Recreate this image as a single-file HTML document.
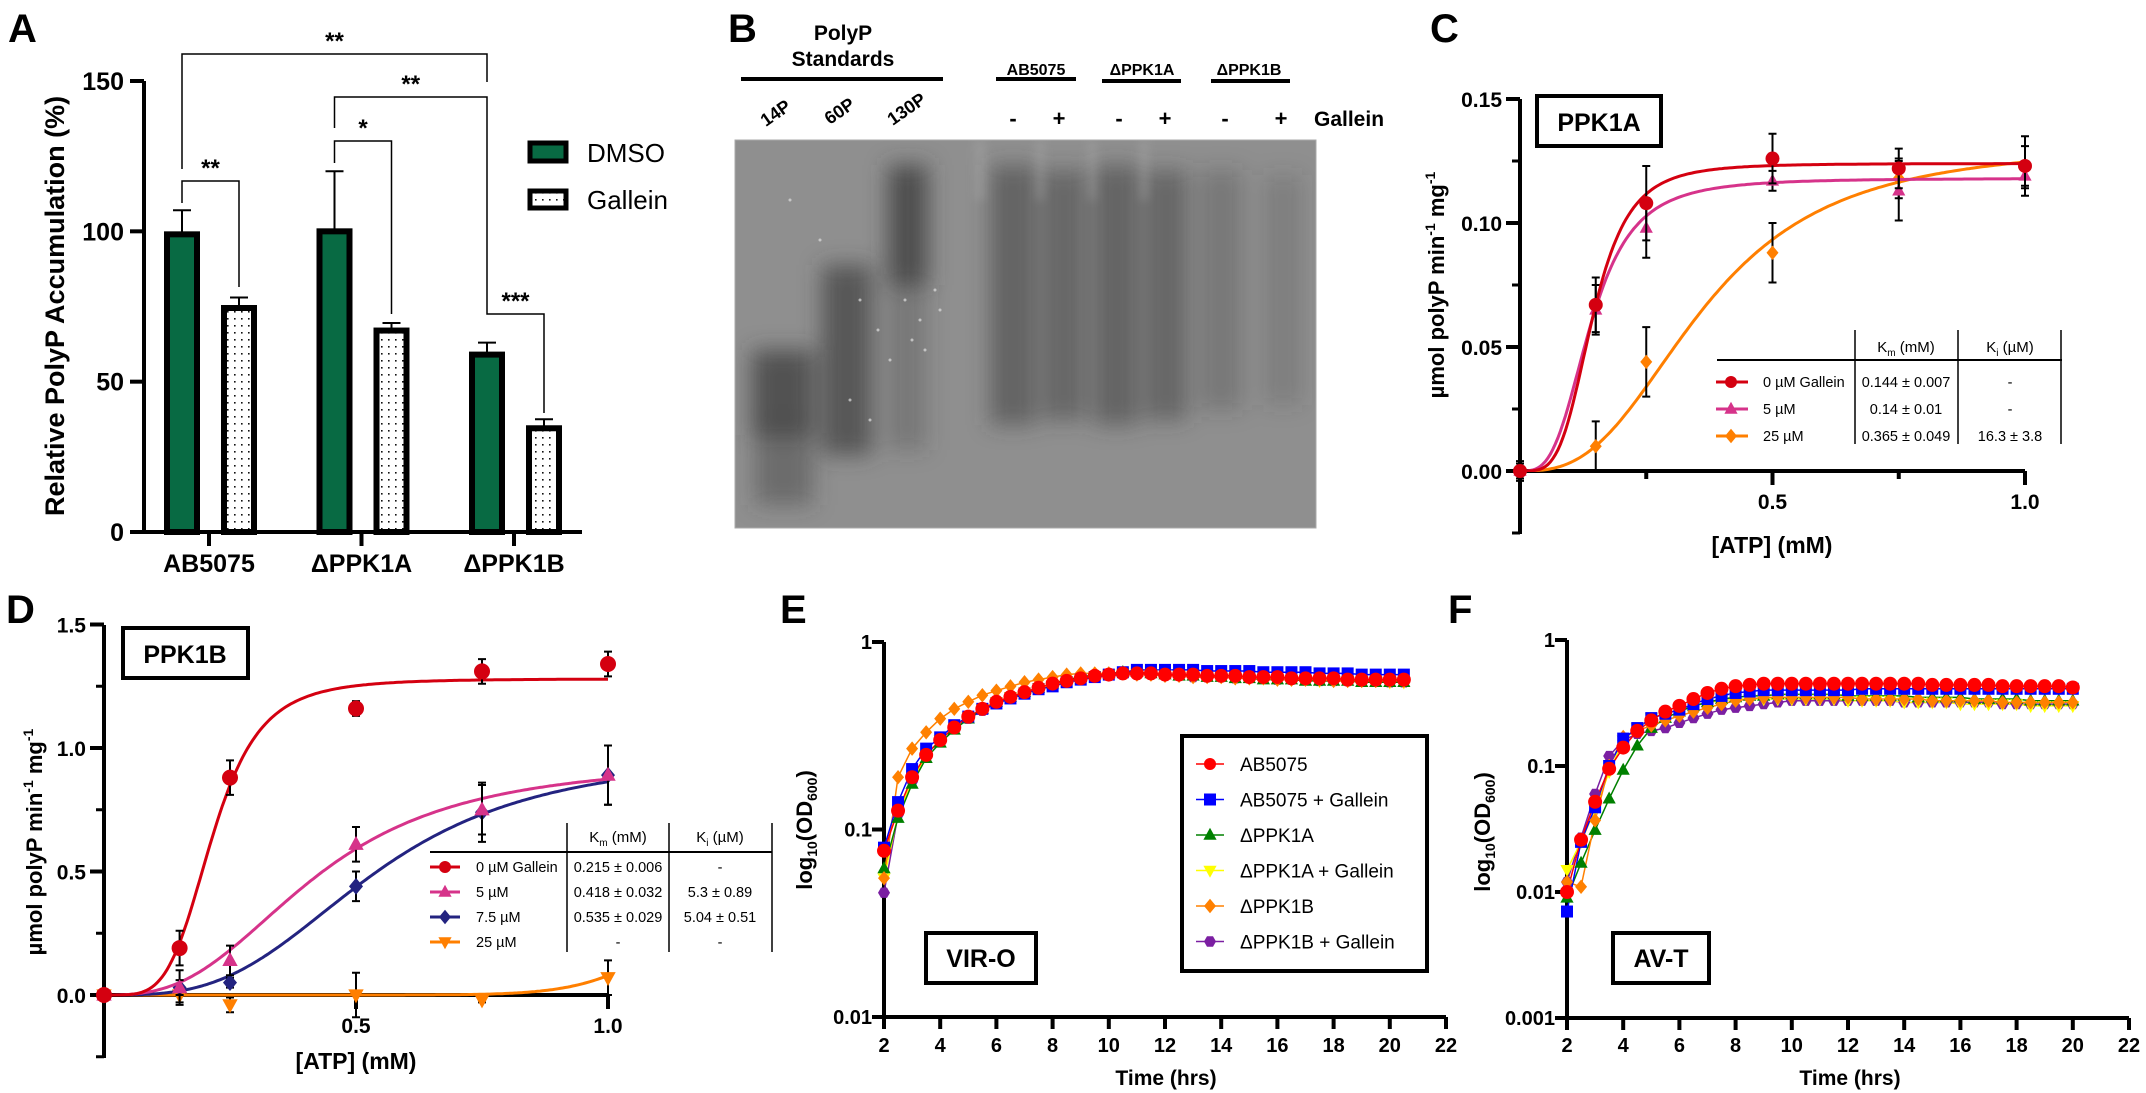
<!DOCTYPE html>
<html><head><meta charset="utf-8">
<style>
html,body{margin:0;padding:0;background:#fff;}
svg{display:block;font-family:"Liberation Sans",Arial,sans-serif;}
.b{font-weight:bold;}
</style></head>
<body>
<svg id="fig" width="2146" height="1093" viewBox="0 0 2146 1093" xmlns="http://www.w3.org/2000/svg">
<defs>
<pattern id="dots" width="7" height="7" patternUnits="userSpaceOnUse"><rect width="7" height="7" fill="#fff"/><rect x="3" y="3" width="1.6" height="1.6" fill="#111"/></pattern>
<filter id="blur8" x="-50%" y="-50%" width="200%" height="200%"><feGaussianBlur stdDeviation="11"/></filter>
<filter id="blur4" x="-50%" y="-50%" width="200%" height="200%"><feGaussianBlur stdDeviation="5"/></filter>
<clipPath id="gelclip"><rect x="735" y="140" width="581" height="388"/></clipPath>
<clipPath id="cclip"><rect x="1520" y="60" width="520" height="412"/></clipPath>
</defs>

<text x="8" y="42" class="b" font-size="40">A</text>
<text x="728" y="42" class="b" font-size="40">B</text>
<text x="1430" y="42" class="b" font-size="40">C</text>
<text x="6" y="623" class="b" font-size="40">D</text>
<text x="780" y="623" class="b" font-size="40">E</text>
<text x="1448" y="623" class="b" font-size="40">F</text>

<g id="panelA">
<text transform="translate(64,306) rotate(-90)" text-anchor="middle" class="b" font-size="27">Relative PolyP Accumulation (%)</text>
<rect x="530" y="143" width="36" height="18" fill="#086a43" stroke="#000" stroke-width="5"/>
<text x="587" y="162" font-size="26">DMSO</text>
<rect x="530" y="191" width="36" height="17" fill="url(#dots)" stroke="#000" stroke-width="5"/>
<text x="587" y="209" font-size="26">Gallein</text>
</g>

<g id="panelB">
<text x="843" y="40" text-anchor="middle" class="b" font-size="21">PolyP</text>
<text x="843" y="66" text-anchor="middle" class="b" font-size="21">Standards</text>
<rect x="741" y="77" width="202" height="4" fill="#000"/>
<text transform="translate(779,118) rotate(-35)" text-anchor="middle" class="b" font-size="18">14P</text>
<text transform="translate(843,116) rotate(-35)" text-anchor="middle" class="b" font-size="18">60P</text>
<text transform="translate(910,114) rotate(-35)" text-anchor="middle" class="b" font-size="18">130P</text>
<text x="1036" y="75" text-anchor="middle" class="b" font-size="16">AB5075</text>
<rect x="996" y="77" width="80" height="4" fill="#000"/>
<text x="1142" y="75" text-anchor="middle" class="b" font-size="16">ΔPPK1A</text>
<rect x="1102" y="79" width="79" height="4" fill="#000"/>
<text x="1249" y="75" text-anchor="middle" class="b" font-size="16">ΔPPK1B</text>
<rect x="1211" y="79" width="79" height="4" fill="#000"/>
<g class="b" font-size="22" text-anchor="middle">
<text x="1013" y="126">-</text>
<text x="1059" y="126">+</text>
<text x="1119" y="126">-</text>
<text x="1165" y="126">+</text>
<text x="1225" y="126">-</text>
<text x="1281" y="126">+</text>
</g>
<text x="1314" y="126" class="b" font-size="21">Gallein</text>
<g clip-path="url(#gelclip)">
<rect x="735" y="140" width="581" height="388" fill="#8f8f8f"/>
<g filter="url(#blur8)" fill="#3e3e3e">
<rect x="752" y="350" width="62" height="85" opacity="0.75"/>
<rect x="755" y="425" width="58" height="80" opacity="0.45"/>
<rect x="822" y="265" width="50" height="190" opacity="0.7"/>
<rect x="888" y="165" width="40" height="120" opacity="0.8"/>
<rect x="888" y="280" width="38" height="170" opacity="0.3"/>
<rect x="990" y="165" width="46" height="260" opacity="0.55"/>
<rect x="1043" y="170" width="42" height="250" opacity="0.5"/>
<rect x="1094" y="165" width="44" height="260" opacity="0.55"/>
<rect x="1145" y="170" width="42" height="250" opacity="0.5"/>
<rect x="1200" y="170" width="42" height="240" opacity="0.28"/>
<rect x="1264" y="175" width="38" height="230" opacity="0.22"/>
</g>
<g filter="url(#blur4)" fill="#b0b0b0" opacity="0.35">
<rect x="975" y="140" width="10" height="60"/>
<rect x="1036" y="140" width="8" height="60"/>
<rect x="1088" y="140" width="8" height="60"/>
<rect x="1140" y="140" width="8" height="60"/>
</g>
<g fill="#e0e0e0" opacity="0.7">
<circle cx="905" cy="300" r="1.5"/><circle cx="920" cy="320" r="1.5"/><circle cx="935" cy="290" r="1.5"/><circle cx="912" cy="340" r="1.5"/><circle cx="940" cy="310" r="1.5"/><circle cx="878" cy="330" r="1.5"/><circle cx="860" cy="300" r="1.5"/><circle cx="890" cy="360" r="1.5"/><circle cx="925" cy="350" r="1.5"/><circle cx="850" cy="400" r="1.5"/><circle cx="870" cy="420" r="1.5"/><circle cx="790" cy="200" r="1.5"/><circle cx="820" cy="240" r="1.5"/>
</g>
</g>
<rect x="735" y="140" width="581" height="388" fill="none" stroke="#aaa" stroke-width="1"/>
</g>

<g id="panelC">
<text transform="translate(1444,285) rotate(-90)" text-anchor="middle" class="b" font-size="22">µmol polyP min<tspan font-size="14" dy="-9">-1</tspan><tspan dy="9"> mg</tspan><tspan font-size="14" dy="-9">-1</tspan></text>
<text x="1772" y="553" text-anchor="middle" class="b" font-size="23">[ATP] (mM)</text>
<rect x="1537" y="96" width="124" height="50" fill="#fff" stroke="#000" stroke-width="4"/>
<text x="1599" y="131" text-anchor="middle" class="b" font-size="25">PPK1A</text>
</g>

<g id="panelD">
<text transform="translate(42,842) rotate(-90)" text-anchor="middle" class="b" font-size="22">µmol polyP min<tspan font-size="14" dy="-9">-1</tspan><tspan dy="9"> mg</tspan><tspan font-size="14" dy="-9">-1</tspan></text>
<text x="356" y="1069" text-anchor="middle" class="b" font-size="23">[ATP] (mM)</text>
<rect x="123" y="628" width="125" height="50" fill="#fff" stroke="#000" stroke-width="4"/>
<text x="185" y="663" text-anchor="middle" class="b" font-size="25">PPK1B</text>
</g>

<g id="panelE">
<text transform="translate(812,830) rotate(-90)" text-anchor="middle" class="b" font-size="22">log<tspan font-size="14" dy="5">10</tspan><tspan dy="-5">(OD</tspan><tspan font-size="14" dy="5">600</tspan><tspan dy="-5">)</tspan></text>
<text x="1166" y="1085" text-anchor="middle" class="b" font-size="21">Time (hrs)</text>
<rect x="926" y="933" width="110" height="50" fill="#fff" stroke="#000" stroke-width="4"/>
<text x="981" y="967" text-anchor="middle" class="b" font-size="25">VIR-O</text>
</g>
<g id="panelF">
<text transform="translate(1490,832) rotate(-90)" text-anchor="middle" class="b" font-size="22">log<tspan font-size="14" dy="5">10</tspan><tspan dy="-5">(OD</tspan><tspan font-size="14" dy="5">600</tspan><tspan dy="-5">)</tspan></text>
<text x="1850" y="1085" text-anchor="middle" class="b" font-size="21">Time (hrs)</text>
<rect x="1613" y="933" width="96" height="50" fill="#fff" stroke="#000" stroke-width="4"/>
<text x="1661" y="967" text-anchor="middle" class="b" font-size="25">AV-T</text>
</g>
</svg>

<script>
// ---------- Panel A data ----------
const A_cats = ['AB5075', 'ΔPPK1A', 'ΔPPK1B'];
const A_dmso = [99, 100, 59];
const A_dmsoErr = [8, 20, 4];
const A_gal = [74.5, 67, 34.5];
const A_galErr = [3.5, 2.5, 3];
const A_ticks = [0, 50, 100, 150];

// ---------- Panel C data ----------
const C_atp = [0, 0.15, 0.25, 0.5, 0.75, 1.0];
const C_red = [0, 0.067, 0.108, 0.126, 0.122, 0.123];
const C_redErr = [0.004, 0.011, 0.015, 0.010, 0.008, 0.012];
const C_pink = [0, 0.065, 0.098, 0.117, 0.113, 0.119];
const C_pinkErr = [0.003, 0.010, 0.012, 0.004, 0.012, 0.005];
const C_orange = [0, 0.010, 0.044, 0.088, 0.118, 0.123];
const C_orangeErr = [0.003, 0.010, 0.014, 0.012, 0.008, 0.008];
const C_vmax = [0.124, 0.118, 0.132];
const C_km = [0.144, 0.14, 0.365];
const C_hill = [4, 3.3, 2.8];
const C_yticks = [0, 0.05, 0.10, 0.15];
const C_ylabels = ['0.00', '0.05', '0.10', '0.15'];
const C_legend = ['0 µM Gallein', '5 µM', '25 µM'];
const C_kmText = ['0.144 ± 0.007', '0.14 ± 0.01', '0.365 ± 0.049'];
const C_kiText = ['-', '-', '16.3 ± 3.8'];

// ---------- Panel D data ----------
const D_atp = [0, 0.15, 0.25, 0.5, 0.75, 1.0];
const D_red = [0, 0.19, 0.88, 1.16, 1.31, 1.34];
const D_redErr = [0.02, 0.07, 0.07, 0.03, 0.05, 0.05];
const D_pink = [0, 0.03, 0.14, 0.61, 0.75, 0.89];
const D_pinkErr = [0.01, 0.03, 0.06, 0.07, 0.10, 0.12];
const D_navy = [0, 0.03, 0.05, 0.44, 0.74, 0.89];
const D_navyErr = [0.01, 0.07, 0.02, 0.06, 0.12, 0.12];
const D_orange = [0, 0.0, -0.04, 0.0, -0.02, 0.07];
const D_orangeErr = [0.01, 0.03, 0.03, 0.09, 0.01, 0.07];
const D_vmax = [1.28, 0.95, 0.98, 0.5];
const D_km = [0.215, 0.418, 0.535, 1.15];
const D_hill = [4.5, 2.8, 3.2, 12];
const D_yticks = [0, 0.5, 1.0, 1.5];
const D_ylabels = ['0.0', '0.5', '1.0', '1.5'];
const D_legend = ['0 µM Gallein', '5 µM', '7.5 µM', '25 µM'];
const D_kmText = ['0.215 ± 0.006', '0.418 ± 0.032', '0.535 ± 0.029', '-'];
const D_kiText = ['-', '5.3 ± 0.89', '5.04 ± 0.51', '-'];

// ---------- Panel E data ----------
const E_time = [2,2.5,3,3.5,4,4.5,5,5.5,6,6.5,7,7.5,8,8.5,9,9.5,10,10.5,11,11.5,12,12.5,13,13.5,14,14.5,15,15.5,16,16.5,17,17.5,18,18.5,19,19.5,20,20.5];
const E_ab = [0.077,0.126,0.19,0.25,0.30,0.35,0.40,0.44,0.48,0.51,0.54,0.57,0.60,0.62,0.64,0.66,0.67,0.68,0.68,0.68,0.67,0.67,0.67,0.66,0.66,0.66,0.65,0.65,0.65,0.64,0.64,0.64,0.64,0.63,0.63,0.63,0.63,0.63];
const E_abGal = [0.08,0.14,0.21,0.27,0.31,0.36,0.40,0.44,0.47,0.50,0.53,0.56,0.58,0.61,0.63,0.65,0.67,0.69,0.71,0.71,0.71,0.71,0.71,0.70,0.70,0.70,0.70,0.69,0.69,0.69,0.69,0.68,0.68,0.68,0.67,0.67,0.67,0.67];
const E_p1a = [0.062,0.115,0.175,0.24,0.29,0.34,0.39,0.44,0.48,0.51,0.54,0.57,0.60,0.63,0.65,0.67,0.68,0.69,0.69,0.68,0.67,0.66,0.66,0.65,0.65,0.64,0.64,0.63,0.63,0.63,0.62,0.62,0.62,0.62,0.61,0.61,0.61,0.61];
const E_p1aGal = [0.055,0.12,0.18,0.25,0.30,0.35,0.40,0.44,0.48,0.51,0.54,0.57,0.59,0.62,0.64,0.66,0.67,0.68,0.68,0.67,0.67,0.66,0.66,0.65,0.65,0.64,0.64,0.64,0.63,0.63,0.63,0.62,0.62,0.62,0.62,0.62,0.61,0.61];
const E_p1b = [0.055,0.19,0.27,0.33,0.39,0.44,0.48,0.52,0.55,0.58,0.61,0.63,0.65,0.67,0.68,0.68,0.68,0.68,0.67,0.67,0.66,0.66,0.65,0.65,0.65,0.64,0.64,0.64,0.63,0.63,0.63,0.63,0.62,0.62,0.62,0.62,0.62,0.62];
const E_p1bGal = [0.046,0.12,0.18,0.25,0.30,0.35,0.39,0.43,0.47,0.50,0.53,0.56,0.59,0.61,0.63,0.65,0.66,0.67,0.67,0.67,0.66,0.66,0.65,0.65,0.65,0.64,0.64,0.64,0.63,0.63,0.63,0.62,0.62,0.62,0.62,0.62,0.61,0.61];

// ---------- Panel F data ----------
const F_time = [2,2.5,3,3.5,4,4.5,5,5.5,6,6.5,7,7.5,8,8.5,9,9.5,10,10.5,11,11.5,12,12.5,13,13.5,14,14.5,15,15.5,16,16.5,17,17.5,18,18.5,19,19.5,20];
const F_ab = [0.010,0.026,0.052,0.095,0.14,0.19,0.23,0.27,0.30,0.34,0.38,0.41,0.43,0.44,0.45,0.45,0.45,0.45,0.45,0.45,0.45,0.45,0.45,0.45,0.45,0.45,0.44,0.44,0.44,0.44,0.44,0.43,0.43,0.43,0.43,0.43,0.42];
const F_abGal = [0.007,0.025,0.047,0.10,0.165,0.20,0.24,0.26,0.28,0.31,0.34,0.36,0.38,0.39,0.40,0.40,0.40,0.40,0.40,0.40,0.40,0.41,0.41,0.41,0.41,0.41,0.41,0.41,0.41,0.41,0.41,0.41,0.41,0.41,0.41,0.41,0.41];
const F_p1a = [0.009,0.017,0.031,0.055,0.093,0.145,0.20,0.24,0.27,0.30,0.32,0.34,0.35,0.36,0.36,0.37,0.37,0.37,0.37,0.37,0.36,0.36,0.36,0.36,0.36,0.35,0.35,0.35,0.35,0.34,0.34,0.34,0.34,0.33,0.33,0.33,0.33];
const F_p1aGal = [0.015,0.025,0.045,0.09,0.16,0.20,0.24,0.26,0.28,0.30,0.32,0.33,0.34,0.34,0.34,0.34,0.34,0.34,0.34,0.34,0.33,0.33,0.33,0.33,0.32,0.32,0.32,0.32,0.31,0.31,0.31,0.31,0.31,0.30,0.30,0.30,0.30];
const F_p1b = [0.012,0.011,0.037,0.10,0.17,0.19,0.21,0.23,0.25,0.27,0.29,0.31,0.33,0.34,0.35,0.35,0.35,0.35,0.35,0.35,0.35,0.34,0.34,0.34,0.34,0.34,0.33,0.33,0.33,0.33,0.33,0.32,0.32,0.32,0.32,0.32,0.32];
const F_p1bGal = [0.012,0.027,0.06,0.12,0.16,0.18,0.19,0.20,0.22,0.24,0.26,0.28,0.29,0.30,0.31,0.32,0.33,0.33,0.33,0.33,0.33,0.33,0.33,0.33,0.32,0.32,0.32,0.32,0.32,0.32,0.32,0.31,0.31,0.31,0.31,0.31,0.31];
const EF_legend = ['AB5075', 'AB5075 + Gallein', 'ΔPPK1A', 'ΔPPK1A + Gallein', 'ΔPPK1B', 'ΔPPK1B + Gallein'];
const EF_xticks = [2,4,6,8,10,12,14,16,18,20,22];

const NS = 'http://www.w3.org/2000/svg';
const svg = document.getElementById('fig');
function mk(tag, attrs, parent) {
  const el = document.createElementNS(NS, tag);
  for (const k in attrs) el.setAttribute(k, attrs[k]);
  (parent || svg).appendChild(el);
  return el;
}
function line(x1, y1, x2, y2, w, c, name) {
  const el = mk('line', {x1: x1, y1: y1, x2: x2, y2: y2, stroke: c || '#000', 'stroke-width': w});
  
  
  return el;
}
function txt(x, y, s, size, anchor, bold, name) {
  const el = mk('text', {x: x, y: y, 'font-size': size, 'text-anchor': anchor || 'start'});
  if (bold) el.setAttribute('font-weight', 'bold');
  el.textContent = s;
  
  
  return el;
}
function marker(shape, x, y, r, color, name, parent) {
  let el;
  if (shape === 'circle') el = mk('circle', {cx: x, cy: y, r: r, fill: color}, parent);
  else if (shape === 'square') el = mk('rect', {x: x - r, y: y - r, width: 2 * r, height: 2 * r, fill: color}, parent);
  else if (shape === 'tri') el = mk('polygon', {points: (x) + ',' + (y - r * 1.2) + ' ' + (x - r * 1.1) + ',' + (y + r * 0.8) + ' ' + (x + r * 1.1) + ',' + (y + r * 0.8), fill: color}, parent);
  else if (shape === 'tridown') el = mk('polygon', {points: (x) + ',' + (y + r * 1.2) + ' ' + (x - r * 1.1) + ',' + (y - r * 0.8) + ' ' + (x + r * 1.1) + ',' + (y - r * 0.8), fill: color}, parent);
  else if (shape === 'diamond') el = mk('polygon', {points: x + ',' + (y - r * 1.2) + ' ' + (x + r) + ',' + y + ' ' + x + ',' + (y + r * 1.2) + ' ' + (x - r) + ',' + y, fill: color}, parent);
  else {
    let p = [];
    for (let i = 0; i < 6; i++) { const a = Math.PI / 3 * i; p.push((x + r * Math.cos(a)) + ',' + (y + r * Math.sin(a))); }
    el = mk('polygon', {points: p.join(' '), fill: color}, parent);
  }
  
  
  return el;
}
function errbar(x, y1, y2, cap, name) {
  const g = mk('path', {d: 'M' + x + ',' + y1 + 'V' + y2 + 'M' + (x - cap) + ',' + y1 + 'H' + (x + cap) + 'M' + (x - cap) + ',' + y2 + 'H' + (x + cap), stroke: '#000', 'stroke-width': 2, fill: 'none'});
  
  
  return g;
}

// ================= Panel A =================
const aY = v => 532 - v * (451 / 150);
const aX = i => 209 + i * 152.5;
line(144, aY(150), 144, 534, 4, '#000', 'a-y-axis');
line(131, 532, 582, 532, 4, '#000', 'a-x-axis');
A_ticks.forEach(t => {
  line(130, aY(t), 144, aY(t), 4, '#000', 'a-y-tick');
  txt(124, aY(t) + 9, String(t), 25, 'end', true, 'a-y-tick-label');
});
A_cats.forEach((c, i) => {
  line(aX(i), 532, aX(i), 546, 4, '#000', 'a-x-tick');
  txt(aX(i), 572, c, 25, 'middle', true, 'a-x-tick-label');
  const xd = aX(i) - 27, xg = aX(i) + 30;
  line(xd, aY(A_dmso[i]), xd, aY(A_dmso[i] + A_dmsoErr[i]), 2, '#000', 'a-dmso-error');
  line(xd - 9, aY(A_dmso[i] + A_dmsoErr[i]), xd + 9, aY(A_dmso[i] + A_dmsoErr[i]), 2, '#000', 'a-dmso-error-cap');
  line(xg, aY(A_gal[i]), xg, aY(A_gal[i] + A_galErr[i]), 2, '#000', 'a-gallein-error');
  line(xg - 9, aY(A_gal[i] + A_galErr[i]), xg + 9, aY(A_gal[i] + A_galErr[i]), 2, '#000', 'a-gallein-error-cap');
  const b1 = mk('rect', {x: xd - 15, y: aY(A_dmso[i]), width: 30, height: 532 - aY(A_dmso[i]), fill: '#086a43', stroke: '#000', 'stroke-width': 6});
  
  
  const b2 = mk('rect', {x: xg - 15, y: aY(A_gal[i]), width: 30, height: 532 - aY(A_gal[i]), fill: 'url(#dots)', stroke: '#000', 'stroke-width': 6});
  
  
});
function bracket(x1, x2, yt, yl, yr, label, name) {
  const p = mk('path', {d: 'M' + x1 + ',' + yl + 'V' + yt + 'H' + x2 + 'V' + yr, stroke: '#000', 'stroke-width': 1.5, fill: 'none'});
  
  
  txt((x1 + x2) / 2, yt - 5, label, 24, 'middle', true, name + '-label');
}
const xD0 = aX(0) - 27, xG0 = aX(0) + 30, xD1 = aX(1) - 27, xG1 = aX(1) + 30, xD2 = aX(2) - 27, xG2 = aX(2) + 30;
bracket(xD0, xD2, 54, 169, 82, '**', 'sig-bracket-ab-vs-ppk1b');
bracket(xD1, xD2, 97, 128, 297, '**', 'sig-bracket-ppk1a-vs-ppk1b');
bracket(xD1, xG1, 141, 163, 314, '*', 'sig-bracket-ppk1a');
bracket(xD0, xG0, 181, 203, 287, '**', 'sig-bracket-ab5075');
bracket(xD2, xG2, 314, 297, 413, '***', 'sig-bracket-ppk1b');

// ================= Panel C =================
const cX = v => 1520 + v * 505;
const cY = v => 471 - v * 2480;
line(1520, 99, 1520, 534, 4, '#000', 'c-y-axis');
line(1518, 471, 2025, 471, 4, '#000', 'c-x-axis');
C_yticks.forEach((t, i) => {
  line(1506, cY(t), 1520, cY(t), 4, '#000', 'c-y-tick');
  txt(1502, cY(t) + 8, C_ylabels[i], 21, 'end', true, 'c-y-tick-label');
});
[0.025, 0.075, 0.125, -0.025].forEach(t => line(1512, cY(t), 1520, cY(t), 3, '#000', 'c-y-minor-tick'));
[0.25, 0.5, 0.75, 1.0].forEach(t => line(cX(t), 471, cX(t), t === 0.25 || t === 0.75 ? 479 : 485, 4, '#000', 'c-x-tick'));
txt(cX(0.5), 509, '0.5', 21, 'middle', true, 'c-x-tick-label');
txt(cX(1.0), 509, '1.0', 21, 'middle', true, 'c-x-tick-label');
const hill = (x, vm, k, n) => vm * Math.pow(x, n) / (Math.pow(k, n) + Math.pow(x, n));
const C_colors = ['#d40010', '#d6338a', '#ff7f00'];
const C_shapes = ['circle', 'tri', 'diamond'];
const C_series = [C_red, C_pink, C_orange];
const C_errs = [C_redErr, C_pinkErr, C_orangeErr];
[2, 1, 0].forEach(s => {
  let d = '';
  for (let k = 0; k <= 200; k++) { const x = k / 200; d += (k ? 'L' : 'M') + cX(x).toFixed(1) + ',' + cY(hill(x, C_vmax[s], C_km[s], C_hill[s])).toFixed(1); }
  const p = mk('path', {d: d, stroke: C_colors[s], 'stroke-width': 3, fill: 'none', 'clip-path': 'url(#cclip)'});
  
  
  C_series[s].forEach((v, i) => {
    errbar(cX(C_atp[i]), cY(v + C_errs[s][i]), cY(v - C_errs[s][i]), 4, 'c-error-bar');
    marker(C_shapes[s], cX(C_atp[i]), cY(v), s === 0 ? 7 : 6, C_colors[s], 'c-point-' + s);
  });
});
line(1717, 360, 2062, 360, 2, '#000', 'c-table-rule');
[1855, 1958, 2061].forEach(x => line(x, 330, x, 444, 1.5, '#000', 'c-table-divider'));
const ch1 = txt(1906, 352, 'K', 15, 'middle', false, 'c-table-header-km');
ch1.innerHTML = 'K<tspan font-size="10" dy="4">m</tspan><tspan dy="-4"> (mM)</tspan>';
const ch2 = txt(2010, 352, 'K', 15, 'middle', false, 'c-table-header-ki');
ch2.innerHTML = 'K<tspan font-size="10" dy="4">i</tspan><tspan dy="-4"> (µM)</tspan>';
C_legend.forEach((l, i) => {
  const y = 382 + i * 27;
  line(1716, y, 1748, y, 3, C_colors[i], 'c-legend-line');
  marker(C_shapes[i], 1731, y, 6, C_colors[i], 'c-legend-marker');
  txt(1763, y + 5, l, 14.5, 'start', false, 'c-legend-label');
  txt(1906, y + 5, C_kmText[i], 14.5, 'middle', false, 'c-table-km');
  txt(2010, y + 5, C_kiText[i], 14.5, 'middle', false, 'c-table-ki');
});

// ================= Panel D =================
const dX = v => 104 + v * 504;
const dY = v => 995 - v * 247;
line(104, 625, 104, 1058, 4, '#000', 'd-y-axis');
line(102, 995, 608, 995, 4, '#000', 'd-x-axis');
D_yticks.forEach((t, i) => {
  line(90, dY(t), 104, dY(t), 4, '#000', 'd-y-tick');
  txt(86, dY(t) + 8, D_ylabels[i], 21, 'end', true, 'd-y-tick-label');
});
[0.25, 0.75, 1.25, -0.25].forEach(t => line(96, dY(t), 104, dY(t), 3, '#000', 'd-y-minor-tick'));
[0.5, 1.0].forEach(t => line(dX(t), 995, dX(t), 1009, 4, '#000', 'd-x-tick'));
txt(dX(0.5), 1033, '0.5', 21, 'middle', true, 'd-x-tick-label');
txt(dX(1.0), 1033, '1.0', 21, 'middle', true, 'd-x-tick-label');
const D_colors = ['#d40010', '#d6338a', '#232380', '#ff7f00'];
const D_shapes = ['circle', 'tri', 'diamond', 'tridown'];
const D_series = [D_red, D_pink, D_navy, D_orange];
const D_errs = [D_redErr, D_pinkErr, D_navyErr, D_orangeErr];
[3, 2, 1, 0].forEach(s => {
  let d = '';
  for (let k = 0; k <= 200; k++) { const x = k / 200; d += (k ? 'L' : 'M') + dX(x).toFixed(1) + ',' + dY(hill(x, D_vmax[s], D_km[s], D_hill[s])).toFixed(1); }
  const p = mk('path', {d: d, stroke: D_colors[s], 'stroke-width': 3, fill: 'none'});
  
  
  D_series[s].forEach((v, i) => {
    errbar(dX(D_atp[i]), dY(v + D_errs[s][i]), dY(v - D_errs[s][i]), 4, 'd-error-bar');
    marker(D_shapes[s], dX(D_atp[i]), dY(v), s === 0 ? 8 : 7, D_colors[s], 'd-point-' + s);
  });
});
line(430, 852, 772, 852, 2, '#000', 'd-table-rule');
[567, 669, 772].forEach(x => line(x, 823, x, 952, 1.5, '#000', 'd-table-divider'));
const dh1 = txt(618, 842, 'K', 15, 'middle', false, 'd-table-header-km');
dh1.innerHTML = 'K<tspan font-size="10" dy="4">m</tspan><tspan dy="-4"> (mM)</tspan>';
const dh2 = txt(720, 842, 'K', 15, 'middle', false, 'd-table-header-ki');
dh2.innerHTML = 'K<tspan font-size="10" dy="4">i</tspan><tspan dy="-4"> (µM)</tspan>';
D_legend.forEach((l, i) => {
  const y = 867 + i * 25;
  line(430, y, 460, y, 3, D_colors[i], 'd-legend-line');
  marker(D_shapes[i], 445, y, 6, D_colors[i], 'd-legend-marker');
  txt(476, y + 5, l, 14.5, 'start', false, 'd-legend-label');
  txt(618, y + 5, D_kmText[i], 14.5, 'middle', false, 'd-table-km');
  txt(720, y + 5, D_kiText[i], 14.5, 'middle', false, 'd-table-ki');
});

// ================= Panels E & F =================
const EF_colors = ['#ff0000', '#0000ff', '#008000', '#ffff00', '#ff8000', '#7b1fa2'];
const EF_shapes = ['circle', 'square', 'tri', 'tridown', 'diamond', 'hex'];
function growth(x0, yTop, decPx, decades, times, series, prefix, labels) {
  const X = t => x0 + (t - 2) * 28.1;
  const Y = v => yTop - Math.log10(v) * decPx;
  line(x0, yTop, x0, yTop + decades * decPx + 2, 4, '#000', prefix + '-y-axis');
  line(x0 - 2, yTop + decades * decPx, X(22), yTop + decades * decPx, 4, '#000', prefix + '-x-axis');
  for (let k = 0; k <= decades; k++) {
    line(x0 - 12, yTop + k * decPx, x0, yTop + k * decPx, 4, '#000', prefix + '-y-tick');
    txt(x0 - 12, yTop + k * decPx + 7, labels[k], 20, 'end', true, prefix + '-y-tick-label');
  }
  EF_xticks.forEach(t => {
    line(X(t), yTop + decades * decPx, X(t), yTop + decades * decPx + 12, 4, '#000', prefix + '-x-tick');
    txt(X(t), 1052, String(t), 20, 'middle', true, prefix + '-x-tick-label');
  });
  const order = [5, 3, 2, 4, 1, 0];
  order.forEach(s => {
    const d = series[s].map((v, i) => (i ? 'L' : 'M') + X(times[i]).toFixed(1) + ',' + Y(v).toFixed(1)).join('');
    const p = mk('path', {d: d, stroke: EF_colors[s], 'stroke-width': 1.5, fill: 'none'});
    
    
  });
  order.forEach(s => {
    series[s].forEach((v, i) => {
      marker(EF_shapes[s], X(times[i]), Y(v), s === 0 ? 7 : 6, EF_colors[s], prefix + '-point-' + s);
    });
  });
}
growth(884, 642, 187.5, 2, E_time, [E_ab, E_abGal, E_p1a, E_p1aGal, E_p1b, E_p1bGal], 'e', ['1', '0.1', '0.01']);
growth(1567, 640, 126, 3, F_time, [F_ab, F_abGal, F_p1a, F_p1aGal, F_p1b, F_p1bGal], 'f', ['1', '0.1', '0.01', '0.001']);

const lb = mk('rect', {x: 1182, y: 736, width: 245, height: 235, fill: '#fff', stroke: '#000', 'stroke-width': 4});


EF_legend.forEach((l, i) => {
  const y = 764 + i * 35.5;
  line(1196, y, 1224, y, 1.5, EF_colors[i], 'e-legend-line');
  marker(EF_shapes[i], 1210, y, 6, EF_colors[i], 'e-legend-marker');
  txt(1240, y + 7, l, 19, 'start', false, 'e-legend-label');
});
</script>
</body></html>
